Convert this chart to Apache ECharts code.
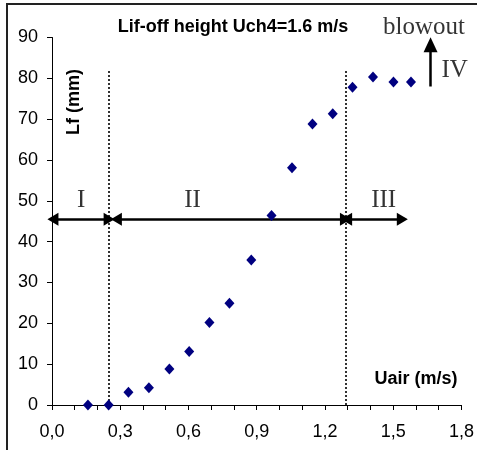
<!DOCTYPE html>
<html>
<head>
<meta charset="utf-8">
<script src="https://cdn.jsdelivr.net/npm/echarts@6/dist/echarts.min.js"></script>
<style>
html,body{margin:0;padding:0;background:#fff;}
#c{width:477px;height:450px;}
</style>
</head>
<body>
<div id="c"></div>
<script>
// ---- data ----
const uairValues = [0.158, 0.249, 0.336, 0.426, 0.516, 0.603, 0.692, 0.780, 0.876, 0.965, 1.055, 1.145, 1.234, 1.321, 1.411, 1.501, 1.578];
const lfValues   = [0, 0, 3.1, 4.2, 8.8, 13.1, 20.2, 24.9, 35.5, 46.4, 58.1, 68.8, 71.3, 77.8, 80.3, 79.1, 79.1];
const regionBounds = [0.25, 1.29];          // dotted boundaries (Uair)
const boundaryTop = 82;                     // height of dotted lines (mm)
const regionArrows = [[0.004, 0.251], [0.283, 1.290], [1.295, 1.540]];
const arrowLevel = 45.5;
const regionLabels = ['I', 'II', 'III'];
const regionLabelX = [0.128, 0.618, 1.458];
const regionLabelY = 50.1;
const blowoutArrow = [1.664, 78, 88.2];
const titleText = 'Lif-off height Uch4=1.6 m/s';
const yName = 'Lf (mm)';
const xName = 'Uair (m/s)';

const chart = echarts.init(document.getElementById('c'), null, {renderer: 'canvas'});
const sans = 'Liberation Sans, Arial, sans-serif';
const serif = 'Liberation Serif, Times New Roman, serif';

const scatterData = uairValues.map((x, i) => [x, lfValues[i]]);

const arrowLines = regionArrows.map(a => [{coord: [a[0], arrowLevel]}, {coord: [a[1], arrowLevel]}]);
arrowLines.push([{coord: [blowoutArrow[0], blowoutArrow[1]], symbol: 'none'}, {coord: [blowoutArrow[0], blowoutArrow[2]], symbol: 'triangle', symbolSize: [14, 15]}]);

const boundaryLines = regionBounds.map(b => [{coord: [b, 0]}, {coord: [b, boundaryTop]}]);

const annData = regionLabels.map((t, i) => ({name: t, value: [regionLabelX[i], regionLabelY]}));
annData.push({name: 'IV', value: [1.77, 82]});
annData.push({name: 'blowout', value: [1.635, 92.5]});

chart.setOption({
  animation: false,
  backgroundColor: '#fff',
  grid: {left: 52, right: 12, top: 37.5, bottom: 45, containLabel: false},
  xAxis: {
    type: 'value', min: 0, max: 1.8, interval: 0.3,
    axisLine: {show: true, onZero: false, lineStyle: {color: '#000', width: 1}},
    axisTick: {show: true, inside: false, length: 5, lineStyle: {color: '#000'}},
    minorTick: {show: true, splitNumber: 3, length: 5, lineStyle: {color: '#000'}},
    splitLine: {show: false},
    axisLabel: {margin: 18, fontSize: 18, fontFamily: sans, color: '#000',
      formatter: v => v.toFixed(1).replace('.', ',')}
  },
  yAxis: {
    type: 'value', min: 0, max: 90, interval: 10,
    axisLine: {show: true, lineStyle: {color: '#000', width: 1}},
    axisTick: {show: true, inside: false, length: 5, lineStyle: {color: '#000'}},
    splitLine: {show: false},
    axisLabel: {margin: 14, fontSize: 18, fontFamily: sans, color: '#000'}
  },
  graphic: [
    {type: 'rect', shape: {x: 7, y: 4, width: 600, height: 600}, style: {fill: 'none', stroke: '#222', lineWidth: 2}, silent: true},
    {type: 'text', x: 233, y: 27, style: {text: titleText, font: 'bold 18px ' + sans, fill: '#000', textAlign: 'center', textVerticalAlign: 'middle'}},
    {type: 'text', x: 416, y: 379, style: {text: xName, font: 'bold 18px ' + sans, fill: '#000', textAlign: 'center', textVerticalAlign: 'middle'}},
    {type: 'text', x: 74, y: 102, rotation: Math.PI / 2, style: {text: yName, font: 'bold 18px ' + sans, fill: '#000', textAlign: 'center', textVerticalAlign: 'middle'}}
  ],
  series: [
    {
      type: 'scatter', data: scatterData, symbol: 'diamond', symbolSize: [10, 11],
      itemStyle: {color: '#000080', opacity: 1}, z: 5,
      markLine: {
        silent: true, symbol: ['none', 'none'], animation: false,
        lineStyle: {color: '#000', type: [2, 2], width: 1.6},
        label: {show: false},
        data: boundaryLines
      }
    },
    {
      type: 'scatter', data: [], z: 4,
      markLine: {
        silent: true, symbol: ['triangle', 'triangle'], symbolSize: [13, 11], animation: false,
        lineStyle: {color: '#000', type: 'solid', width: 2.5},
        itemStyle: {color: '#000'},
        label: {show: false},
        data: arrowLines
      }
    },
    {
      type: 'scatter', data: annData, symbolSize: 0, clip: false, silent: true,
      label: {show: true, position: 'inside', formatter: p => p.name, fontFamily: serif, fontSize: 25, color: '#000'},
      z: 6
    }
  ]
});
</script>
</body>
</html>
